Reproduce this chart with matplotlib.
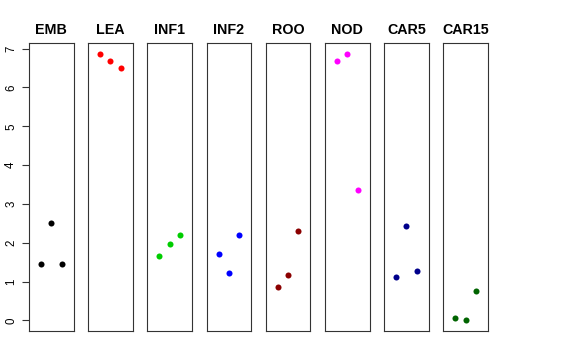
import matplotlib
matplotlib.use("Agg")
import matplotlib.pyplot as plt

plt.rcParams["font.family"] = ["Liberation Sans", "DejaVu Sans"]

tissues = ["EMB", "LEA", "INF1", "INF2", "ROO", "NOD", "CAR5", "CAR15"]
colors = ["black", "red", "#00CD00", "blue", "#8B0000", "magenta", "#00008B", "#006400"]
replicates = [1, 2, 3]
values = [
    [1.46, 2.50, 1.45],
    [6.86, 6.67, 6.49],
    [1.67, 1.97, 2.21],
    [1.71, 1.23, 2.21],
    [0.86, 1.17, 2.30],
    [6.67, 6.87, 3.36],
    [1.11, 2.42, 1.28],
    [0.05, 0.00, 0.755],
]

W, H = 576, 360
fig = plt.figure(figsize=(W / 100, H / 100), dpi=100)

ymin, ymax = 0.0, 6.87
ypad = (ymax - ymin) * 0.04
left0, step, pw = 29.0, 59.2, 44.5
top, bottom = 43.0, 331.0

for i, (name, col, vals) in enumerate(zip(tissues, colors, values)):
    ax = fig.add_axes([(left0 + i * step) / W, (H - bottom) / H, pw / W, (bottom - top) / H])
    ax.scatter(replicates, vals, s=19, color=col, linewidths=0, zorder=3)
    ax.set_xlim(-0.16, 4.16)
    ax.set_ylim(ymin - ypad, ymax + ypad)
    ax.set_xticks([])
    ax.set_title(name, fontsize=10.3, fontweight="bold", pad=6.5)
    for sp in ax.spines.values():
        sp.set_linewidth(0.8)
        sp.set_color("#333333")
    if i == 0:
        ax.set_yticks(range(0, 8))
        ax.tick_params(axis="y", length=5, width=0.8, labelsize=8.3, pad=3.5, color="#333333")
        for lb in ax.get_yticklabels():
            lb.set_rotation(90)
            lb.set_va("center")
    else:
        ax.set_yticks([])

fig.savefig("out.png", dpi=100)
